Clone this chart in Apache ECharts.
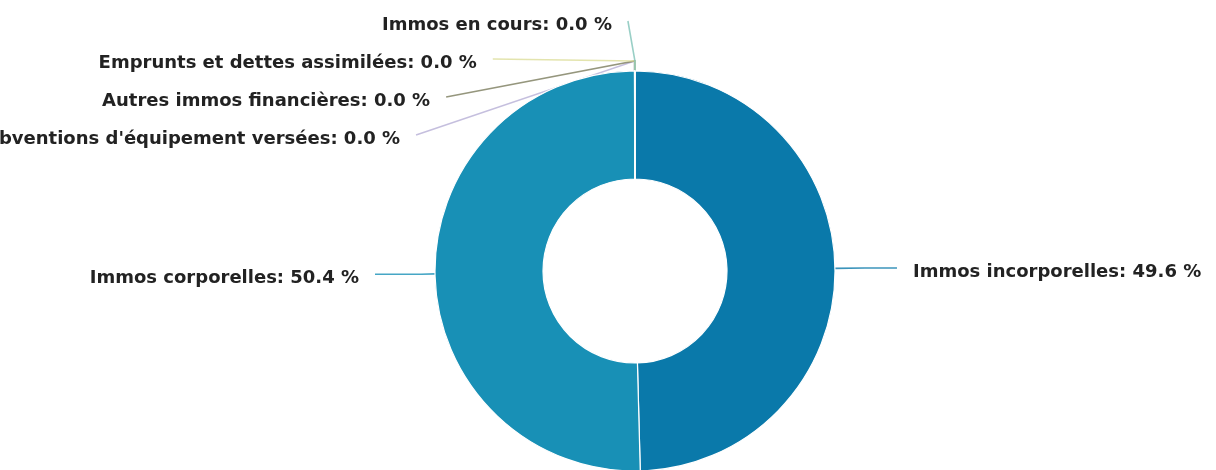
<!DOCTYPE html>
<html>
<head>
<meta charset="utf-8">
<script src="https://cdn.jsdelivr.net/npm/echarts@6/dist/echarts.min.js"></script>
<style>
  html, body { margin: 0; padding: 0; background: #ffffff; }
  #chart { width: 1216px; height: 470px; }
</style>
</head>
<body>
<div id="chart"></div>
<script>
// Répartition des investissements (en % du total)
const categories = [
  'Immos incorporelles',
  'Immos corporelles',
  "Subventions d'équipement versées",
  'Autres immos financières',
  'Emprunts et dettes assimilées',
  'Immos en cours'
];
const shares = [49.6, 50.4, 0.01, 0.01, 0.01, 0.01];
const sliceColors = ['#0a79aa', '#1890b6', '#b7afd6', '#7b7c5c', '#dcdd9a', '#7fc3b8'];

// Guide line lengths: the two big halves sit at 3 and 9 o'clock,
// the tiny slices at 12 o'clock get stacked labels on the left.
function guideFor(i) {
  if (i === 0) return { length: 30, length2: 32 };
  if (i === 1) return { length: 30, length2: 46 };
  if (i === 5) return { length: 50, length2: 7 };
  return { length: 50, length2: 25 };
}

const pieData = categories.map((name, i) => ({
  name: name,
  value: shares[i],
  itemStyle: { color: sliceColors[i] },
  labelLine: guideFor(i)
}));

// text sits a few pixels below the end of its guide line
const TEXT_DROP = 4;

const chart = echarts.init(document.getElementById('chart'), null, { renderer: 'canvas' });
chart.setOption({
  animation: false,
  backgroundColor: '#ffffff',
  series: [{
    type: 'pie',
    left: 0, top: 0, width: 1216, height: 470,
    center: [635, 271],
    radius: [92, 200],
    startAngle: 90,
    clockwise: true,
    percentPrecision: 1,
    avoidLabelOverlap: true,
    itemStyle: { borderColor: '#ffffff', borderWidth: 1.2 },
    label: {
      show: true,
      position: 'outside',
      overflow: 'none',
      distanceToLabelLine: 16,
      fontFamily: 'DejaVu Sans',
      fontWeight: 'bold',
      fontSize: 18,
      lineHeight: 36,
      color: '#222222',
      formatter: p => p.name + ': ' + p.percent.toFixed(1) + ' %'
    },
    labelLine: {
      show: true,
      smooth: false,
      lineStyle: { width: 1.6, opacity: 0.8 }
    },
    labelLayout: function (p) {
      const pts = p.labelLinePoints;
      if (!pts) return {};
      const r = p.labelRect;
      const out = {
        y: r.y + r.height / 2 + TEXT_DROP,
        verticalAlign: 'middle',
        labelLinePoints: pts
      };
      // small slices: short rise off the rim, then straight to the label
      if (p.dataIndex >= 2) {
        const a = pts[0];
        out.labelLinePoints = [a, [a[0], a[1] - 10], pts[2]];
      }
      return out;
    },
    emphasis: { disabled: true },
    data: pieData
  }]
});
</script>
</body>
</html>
